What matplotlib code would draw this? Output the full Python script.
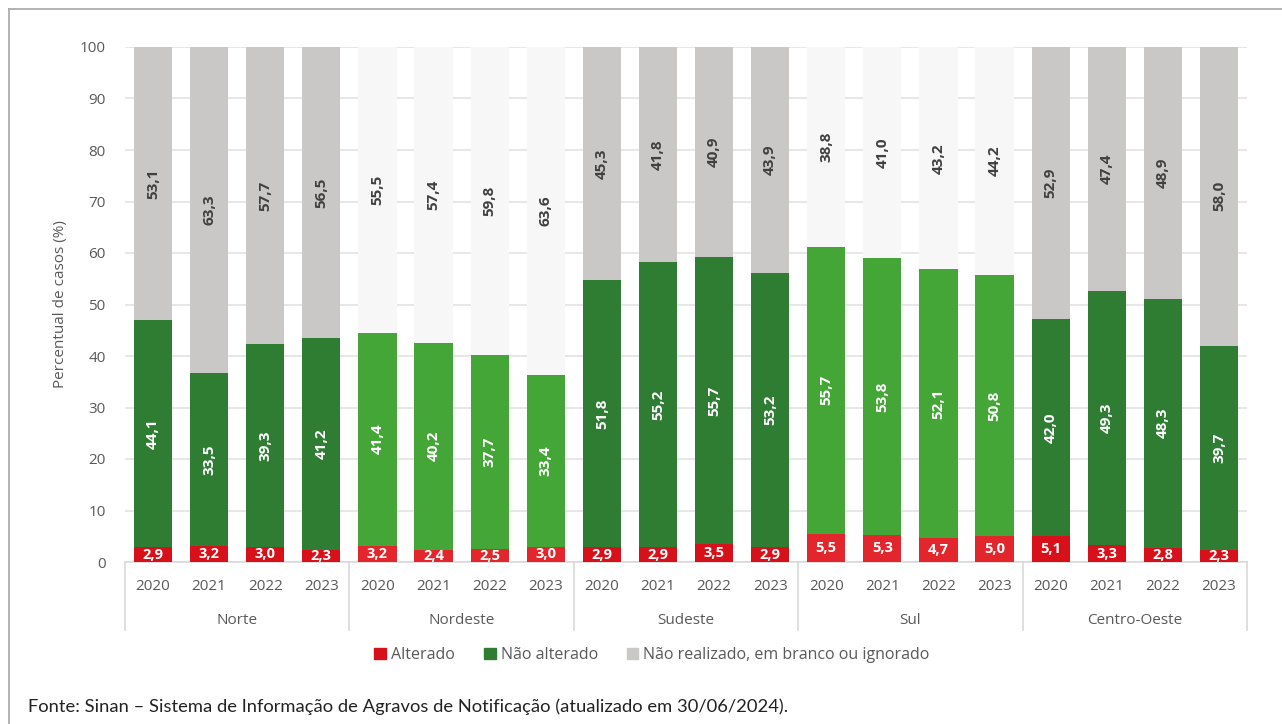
import matplotlib
matplotlib.use("Agg")
import matplotlib.pyplot as plt
from matplotlib.lines import Line2D
from matplotlib.patches import Patch
import numpy as np

regions = ["Norte", "Nordeste", "Sudeste", "Sul", "Centro-Oeste"]
years = ["2020", "2021", "2022", "2023"]

alterado = [2.9, 3.2, 3.0, 2.3,
            3.2, 2.4, 2.5, 3.0,
            2.9, 2.9, 3.5, 2.9,
            5.5, 5.3, 4.7, 5.0,
            5.1, 3.3, 2.8, 2.3]
nao_alterado = [44.1, 33.5, 39.3, 41.2,
                41.4, 40.2, 37.7, 33.4,
                51.8, 55.2, 55.7, 53.2,
                55.7, 53.8, 52.1, 50.8,
                42.0, 49.3, 48.3, 39.7]
nao_realizado = [53.1, 63.3, 57.7, 56.5,
                 55.5, 57.4, 59.8, 63.6,
                 45.3, 41.8, 40.9, 43.9,
                 38.8, 41.0, 43.2, 44.2,
                 52.9, 47.4, 48.9, 58.0]

# styling per region (dark / light palette alternates)
dark = dict(red="#D7101A", green="#2E7D33", gray="#C9C8C6")
light = dict(red="#E3262B", green="#44A636", gray="#F7F7F7")
region_style = [dark, light, dark, light, dark]

plt.rcParams["font.family"] = ["Open Sans", "DejaVu Sans"]

fig = plt.figure(figsize=(12.82, 7.24), dpi=100)
ax = fig.add_axes([125/1282, 1-562/724, (1247-125)/1282, (562-47)/724])

n = len(alterado)
x = np.arange(n)
w = 0.68
reds = [region_style[i // 4]["red"] for i in range(n)]
greens = [region_style[i // 4]["green"] for i in range(n)]
grays = [region_style[i // 4]["gray"] for i in range(n)]
a = np.array(alterado)
g = np.array(nao_alterado)
r = np.array(nao_realizado)
# 100% stacked (as in the original chart)
tot = a + g + r
ap, gp, rp = a / tot * 100, g / tot * 100, r / tot * 100
ax.bar(x, ap, w, color=reds, zorder=3)
ax.bar(x, gp, w, bottom=ap, color=greens, zorder=3)
ax.bar(x, rp, w, bottom=ap + gp, color=grays, zorder=3)

for i in range(n):
    ax.text(x[i], ap[i] / 2, f"{a[i]:.1f}".replace(".", ","), ha="center", va="center",
            color="white", fontsize=10.5, fontweight="bold", zorder=4)
    ax.text(x[i], ap[i] + gp[i] / 2, f"{g[i]:.1f}".replace(".", ","), ha="center", va="center",
            color="white", fontsize=11, fontweight="bold", rotation=90, zorder=4)
    ax.text(x[i], ap[i] + gp[i] + rp[i] / 2, f"{r[i]:.1f}".replace(".", ","),
            ha="center", va="center", color="#404040", fontsize=11, fontweight="bold",
            rotation=90, zorder=4)

ax.set_xlim(-0.5, n - 0.5)
ax.set_ylim(0, 100)
ax.set_yticks(range(0, 101, 10))
ax.yaxis.grid(True, color="#E3E3E3", linewidth=1.2, zorder=0)
ax.set_axisbelow(True)
for s in ["top", "right", "left"]:
    ax.spines[s].set_visible(False)
ax.spines["bottom"].set_color("#D9D9D9")
ax.spines["bottom"].set_linewidth(1.2)
ax.tick_params(axis="y", length=0, labelsize=11, labelcolor="#595959", pad=14)
ax.set_xticks(x)
ax.set_xticklabels(years * len(regions))
ax.tick_params(axis="x", length=0, labelsize=11, labelcolor="#595959", pad=12)
ax.set_ylabel("Percentual de casos (%)", fontsize=11, color="#595959", labelpad=8)

# group labels and separators
trans = ax.get_xaxis_transform()
for k, reg in enumerate(regions):
    ax.text(4 * k + 1.5, -0.114, reg, transform=trans, ha="center", va="center",
            fontsize=11, color="#595959")
for k in range(len(regions) + 1):
    ax.add_line(Line2D([4 * k - 0.5, 4 * k - 0.5], [0, -0.132], transform=trans,
                       color="#D9D9D9", linewidth=1.2, clip_on=False))

handles = [Patch(color=dark["red"], label="Alterado"),
           Patch(color=dark["green"], label="Não alterado"),
           Patch(color=dark["gray"], label="Não realizado, em branco ou ignorado")]
fig.legend(handles=handles, loc="center", bbox_to_anchor=(652/1282, 1-655/724), ncol=3,
           frameon=False, fontsize=11.5, handlelength=0.75, handleheight=0.75,
           handletextpad=0.3, columnspacing=1.8, labelcolor="#595959")

# outer frame (left and top)
fig.add_artist(Line2D([9/1282, 9/1282], [0, 1-9/724], transform=fig.transFigure,
                      color="#A6A6A6", linewidth=1.2))
fig.add_artist(Line2D([9/1282, 1], [1-9/724, 1-9/724], transform=fig.transFigure,
                      color="#A6A6A6", linewidth=1.2))

fig.text(28/1282, 1-707/724, "Fonte: Sinan – Sistema de Informação de Agravos de Notificação (atualizado em 30/06/2024).",
         ha="left", va="center", fontsize=13.2, color="#222222",
         family=["Lato", "DejaVu Sans"])

fig.savefig("out.png", dpi=100)
